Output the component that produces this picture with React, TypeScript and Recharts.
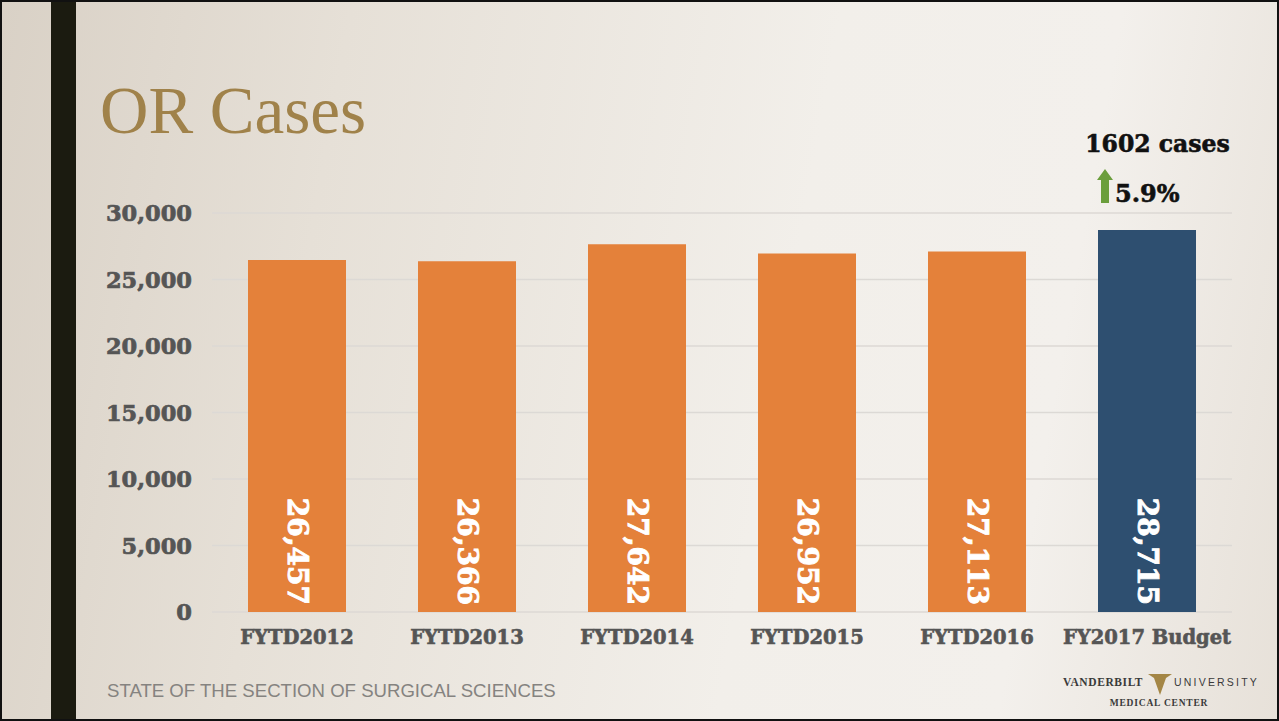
import React from 'react'
import { BarChart, Bar, XAxis, YAxis, CartesianGrid, LabelList, Cell } from 'recharts'

const categories = ['FYTD2012', 'FYTD2013', 'FYTD2014', 'FYTD2015', 'FYTD2016', 'FY2017 Budget']
const cases = [26457, 26366, 27642, 26952, 27113, 28715]
const yTicks = [0, 5000, 10000, 15000, 20000, 25000, 30000]
const increaseLabel = '1602 cases'
const increasePct = '5.9%'

const ORANGE = '#e4813a'
const NAVY = '#2e4f70'
const SERIF_BOLD = '"DejaVu Serif", "Liberation Serif", serif'

const data = categories.map((label, i) => ({ label, value: cases[i] }))

const fmt = (v: number) => v.toLocaleString('en-US')

// heavy serif look: bold face plus a thin stroke of the same colour
const heavy = (color: string, w = 0.7) => ({
  fill: color,
  stroke: color,
  strokeWidth: w,
  fontFamily: SERIF_BOLD,
  fontWeight: 'bold' as const,
})

const YTick = (props: any) => {
  const { x, y, payload } = props
  return (
    <text x={x - 12} y={y} textAnchor="end" dominantBaseline="central" fontSize={22.5} {...heavy('#555')}>
      {fmt(payload.value)}
    </text>
  )
}

const XTick = (props: any) => {
  const { x, y, payload } = props
  return (
    <text x={x} y={y + 17} textAnchor="middle" dominantBaseline="central" fontSize={19.5} {...heavy('#555', 0.6)}>
      {payload.value}
    </text>
  )
}

// value written sideways at the foot of each bar
const BarValue = (props: any) => {
  const { x, y, width, height, value } = props
  const cx = x + width / 2
  const by = y + height - 7
  return (
    <text
      x={cx}
      y={by}
      transform={`rotate(90, ${cx}, ${by})`}
      textAnchor="end"
      dominantBaseline="central"
      fontSize={28}
      {...heavy('#fff', 0.9)}
    >
      {fmt(value)}
    </text>
  )
}

export default function App() {
  return (
    <div
      style={{
        position: 'absolute',
        left: 0,
        top: 0,
        width: 1279,
        height: 721,
        boxSizing: 'border-box',
        border: '2px solid #111',
        background: 'linear-gradient(100deg, #d9d1c6 0%, #e6e0d7 25%, #f2efea 60%, #f3f0ec 80%, #e7e1d9 100%)',
        overflow: 'hidden',
      }}
    >
      <div style={{ position: 'absolute', left: 49, top: 0, width: 25, height: 721, background: '#1b1b10' }} />
      <div
        style={{
          position: 'absolute',
          left: 98,
          top: 70,
          fontFamily: '"Liberation Serif", serif',
          fontSize: 67,
          color: '#a0824a',
          lineHeight: '76px',
        }}
      >
        OR Cases
      </div>

      <div style={{ position: 'absolute', left: -2, top: -2 }}>
        <BarChart width={1279} height={721} data={data} margin={{ top: 213, right: 47, left: 0, bottom: 0 }}>
          <CartesianGrid vertical={false} stroke="#dcd9d5" strokeWidth={1.5} />
          <YAxis
            width={212}
            domain={[0, 30000]}
            ticks={yTicks}
            axisLine={false}
            tickLine={false}
            tick={<YTick />}
            interval={0}
          />
          <XAxis dataKey="label" height={109} axisLine={false} tickLine={false} tick={<XTick />} interval={0} />
          <Bar dataKey="value" barSize={98} isAnimationActive={false}>
            {data.map((d, i) => (
              <Cell key={d.label} fill={i === data.length - 1 ? NAVY : ORANGE} />
            ))}
            <LabelList dataKey="value" content={<BarValue />} />
          </Bar>
          {/* annotation above the budget bar */}
          <text x={1157.5} y={144} textAnchor="middle" dominantBaseline="central" fontSize={23.5} {...heavy('#111', 0.6)}>
            {increaseLabel}
          </text>
          <path d="M1105 169 L1113 180 L1109 180 L1109 203 L1101 203 L1101 180 L1097 180 Z" fill="#6b9e3c" />
          <text x={1115} y={193} textAnchor="start" dominantBaseline="central" fontSize={24} {...heavy('#111', 0.6)}>
            {increasePct}
          </text>
        </BarChart>
      </div>

      <div
        style={{
          position: 'absolute',
          left: 105,
          top: 678,
          fontFamily: '"Liberation Sans", Arial, sans-serif',
          fontSize: 18.6,
          color: '#858380',
          whiteSpace: 'nowrap',
        }}
      >
        STATE OF THE SECTION OF SURGICAL SCIENCES
      </div>

      <svg style={{ position: 'absolute', left: 1058, top: 668 }} width={200} height={44}>
        <text x={3} y={16} fontFamily='"Liberation Serif", serif' fontWeight="bold" fontSize={11.5} fill="#3a3a3a" letterSpacing={0.6}>
          VANDERBILT
        </text>
        <path d="M88 4 L112 4 L106 8 L100 25 L94 8 Z" fill="#a48645" />
        <text x={114} y={16} fontFamily='"Liberation Sans", sans-serif' fontSize={10.5} fill="#3a3a3a" letterSpacing={2.2}>
          UNIVERSITY
        </text>
        <text x={99} y={36} textAnchor="middle" fontFamily='"Liberation Serif", serif' fontWeight="bold" fontSize={9.5} fill="#3a3a3a" letterSpacing={0.8}>
          MEDICAL CENTER
        </text>
      </svg>
    </div>
  )
}
